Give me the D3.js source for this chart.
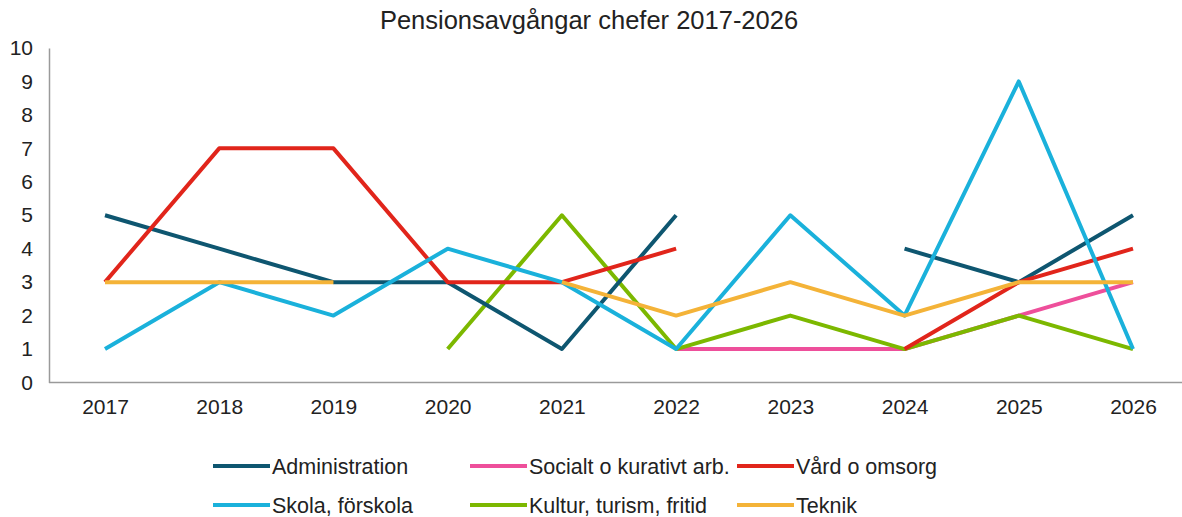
<!DOCTYPE html>
<html>
<head>
<meta charset="utf-8">
<script src="https://cdnjs.cloudflare.com/ajax/libs/d3/7.8.5/d3.min.js"></script>
<style>
  body { margin: 0; background: #fff; }
  svg text { font-family: "Liberation Sans", Arial, sans-serif; fill: #222; }
</style>
</head>
<body>
<div id="chart"></div>
<script>
// data (null = no value that year)
var years = ["2017", "2018", "2019", "2020", "2021", "2022", "2023", "2024", "2025", "2026"];
var yTicks = [0, 1, 2, 3, 4, 5, 6, 7, 8, 9, 10];

var administration = [5, 4, 3, 3, 1, 5, null, 4, 3, 5];
var socialt = [null, null, null, null, null, 1, 1, 1, 2, 3];
var vard = [3, 7, 7, 3, 3, 4, null, 1, 3, 4];
var skola = [1, 3, 2, 4, 3, 1, 5, 2, 9, 1];
var kultur = [null, null, null, 1, 5, 1, 2, 1, 2, 1];
var teknik = [3, 3, 3, null, 3, 2, 3, 2, 3, 3];

var seriesNames = ["Administration", "Socialt o kurativt arb.", "Vård o omsorg",
  "Skola, förskola", "Kultur, turism, fritid", "Teknik"];
var seriesColors = ["#0e5670", "#ee4f9b", "#e1251b", "#1ab1db", "#7cb800", "#f4b338"];

var series = [administration, socialt, vard, skola, kultur, teknik].map(function (vals, i) {
  return { name: seriesNames[i], color: seriesColors[i], values: vals };
});

// drawing order (last on top)
var drawOrder = [1, 4, 0, 2, 3, 5];

var width = 1182, height = 517;

var svg = d3.select("#chart")
  .append("svg")
  .attr("width", width)
  .attr("height", height);

// //scales
var x = d3.scalePoint()
  .domain(years)
  .range([105, 1133]);

var y = d3.scaleLinear()
  .domain([0, 10])
  .range([382.5, 48]);

// //title
svg.append("text")
  .attr("x", 589)
  .attr("y", 29)
  .attr("text-anchor", "middle")
  .style("font-size", "25.5px")
  .text("Pensionsavgångar chefer 2017-2026");

// //y axis
var yAxis = svg.append("g")
  .attr("transform", "translate(49,0)")
  .call(d3.axisLeft(y).tickValues(yTicks).tickSize(0).tickPadding(16));
yAxis.select(".domain").attr("stroke", "#9a9a9a").attr("stroke-width", 1.5);
yAxis.selectAll("text").style("font-size", "21px").attr("fill", "#222");

// //x axis
var xAxis = svg.append("g")
  .attr("transform", "translate(0," + y(0) + ")")
  .call(d3.axisBottom(x).tickSize(0).tickPadding(17));
xAxis.select(".domain").remove();
xAxis.append("line")
  .attr("x1", 49).attr("x2", width)
  .attr("stroke", "#9a9a9a").attr("stroke-width", 1.5);
xAxis.selectAll("text").style("font-size", "21px").attr("fill", "#222");

// //lines
var line = d3.line()
  .defined(function (d) { return d != null; })
  .x(function (d, i) { return x(years[i]); })
  .y(function (d) { return y(d); });

svg.append("g")
  .selectAll("path")
  .data(drawOrder.map(function (i) { return series[i]; }))
  .join("path")
  .attr("d", function (d) { return line(d.values); })
  .attr("fill", "none")
  .attr("stroke", function (d) { return d.color; })
  .attr("stroke-width", 4)
  .attr("stroke-linejoin", "round");

// //legend
var legendX = [213, 470, 737];
var legendY = [466, 505];

var legend = svg.append("g")
  .selectAll("g")
  .data(series)
  .join("g")
  .attr("transform", function (d, i) {
    return "translate(" + legendX[i % 3] + "," + legendY[Math.floor(i / 3)] + ")";
  });

legend.append("line")
  .attr("x1", 0).attr("x2", 57)
  .attr("stroke", function (d) { return d.color; })
  .attr("stroke-width", 4);

legend.append("text")
  .attr("x", 59)
  .attr("dy", "0.35em")
  .style("font-size", "21.5px")
  .text(function (d) { return d.name; });
</script>
</body>
</html>
